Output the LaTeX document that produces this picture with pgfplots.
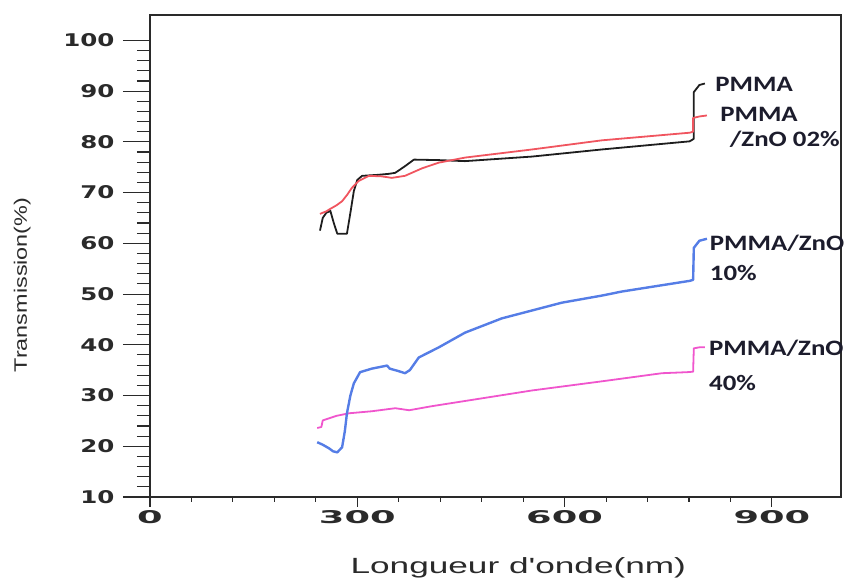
\documentclass[border=0pt]{standalone}
\usepackage{fontspec}
\setmainfont{Liberation Sans}
\newfontfamily\ytickfont[FakeStretch=1.4]{DejaVu Sans Bold}
\newfontfamily\xtickfont[FakeStretch=2.1]{DejaVu Sans Bold}
\newfontfamily\notefont[FakeStretch=1.22]{Carlito Bold}
\newfontfamily\ylabfont[FakeStretch=1.3]{Liberation Sans}
\newfontfamily\xlabfont[FakeStretch=1.6]{Liberation Sans}
\usepackage{pgfplots}
\pgfplotsset{compat=1.18}

\definecolor{cPMMA}{HTML}{1E1E1E}
\definecolor{cZnOa}{HTML}{F0555F}
\definecolor{cZnOb}{HTML}{557DE6}
\definecolor{cZnOc}{HTML}{F055CD}
\definecolor{cText}{HTML}{2A2A2A}
\definecolor{cNote}{HTML}{1C1C2C}

% Transmission spectra (wavelength in nm, transmission in %)
\pgfplotstableread{
x y
246 62.5
250 65.0
255 66.0
261 66.4
266 64.0
271 61.9
285 61.9
290 66.0
295 70.3
300 72.5
307 73.3
330 73.5
346 73.7
355 73.9
369 75.2
382 76.5
418 76.4
456 76.2
553 77.1
654 78.5
781 80.1
787 80.6
787 89.8
795 91.2
803 91.5
}\pmma
\pgfplotstableread{
x y
246 65.8
255 66.3
261 66.8
270 67.5
278 68.3
285 69.5
292 70.9
302 72.3
317 73.3
335 73.2
350 72.9
369 73.3
384 74.2
394 74.8
418 75.9
456 76.9
553 78.5
654 80.3
781 81.8
786 82.0
786 84.7
795 85.0
806 85.2
}\zncA
\pgfplotstableread{
x y
242 20.8
250 20.3
259 19.6
265 19.0
271 18.8
278 19.8
282 23.0
285 26.5
290 30.0
295 32.4
304 34.6
321 35.3
343 35.9
347 35.3
360 34.8
369 34.4
376 35.0
389 37.5
418 39.5
456 42.4
509 45.2
596 48.3
654 49.7
683 50.5
781 52.6
786 52.8
787 59.1
795 60.5
806 60.9
}\zncB
\pgfplotstableread{
x y
242 23.6
248 23.8
250 25.1
259 25.5
270 26.0
288 26.5
321 26.9
355 27.5
375 27.1
408 27.9
553 31.0
654 32.8
741 34.4
777 34.6
786 34.7
787 39.3
795 39.5
803 39.5
}\zncC

\begin{document}
\begin{tikzpicture}
\useasboundingbox (-150pt,-83pt) rectangle (694pt,497pt);
% data, frame and y ticks
\begin{axis}[
  at={(0,0)}, anchor=south west,
  scale only axis, width=691pt, height=482pt,
  xmin=0, xmax=1000, ymin=10, ymax=105,
  xtick=\empty,
  ytick={10,20,...,100}, minor y tick num=4,
  ytick pos=left, tick align=outside,
  major tick length=27pt, minor tick length=13pt,
  axis line style={cText, line width=1.2pt},
  tick style={cText, line width=1.1pt},
  /pgf/number format/assume math mode=true,
  yticklabel style={font=\ytickfont\fontsize{17.5}{18}\selectfont, text=cText, xshift=-5pt},
  clip=false,
]
\addplot[cPMMA, line width=1.8pt, line join=round] table[x=x,y=y]{\pmma};
\addplot[cZnOa, line width=1.8pt, line join=round] table[x=x,y=y]{\zncA};
\addplot[cZnOc, line width=1.8pt, line join=round] table[x=x,y=y]{\zncC};
\addplot[cZnOb, line width=2.4pt, line join=round] table[x=x,y=y]{\zncB};

\begin{scope}[every node/.style={anchor=west, inner sep=0pt, text=cNote, font=\notefont\fontsize{22}{24}\selectfont}]
\node at (axis cs:818,91.3) {PMMA};
\node at (axis cs:825,85.4) {PMMA};
\node at (axis cs:839,80.5) {/ZnO 02\%};
\node at (axis cs:810,60.1) {PMMA/ZnO};
\node at (axis cs:810,54.2) {10\%};
\node at (axis cs:809,39.3) {PMMA/ZnO};
\node at (axis cs:809,32.4) {40\%};
\end{scope}

\node[rotate=90, anchor=center, text=cText, font=\ylabfont\fontsize{18}{20}\selectfont]
  at (axis description cs:-0.185,0.44) {Transmission(\%)};
\node[anchor=center, text=cText, font=\xlabfont\fontsize{22}{24}\selectfont]
  at (axis description cs:0.533,-0.147) {Longueur d'onde(nm)};
\end{axis}
% x ticks
\begin{axis}[
  at={(0,0)}, anchor=south west,
  scale only axis, width=691pt, height=482pt,
  xmin=0, xmax=1000, ymin=10, ymax=105,
  ytick=\empty,
  xtick={0,300,600,900}, minor x tick num=4,
  xtick pos=bottom, tick align=outside,
  major tick length=10pt, minor tick length=5pt,
  axis line style={draw=none},
  tick style={cText, line width=1.1pt},
  /pgf/number format/assume math mode=true,
  xticklabel style={font=\xtickfont\fontsize{17.5}{18}\selectfont, text=cText},
]
\end{axis}
\end{tikzpicture}
\end{document}
